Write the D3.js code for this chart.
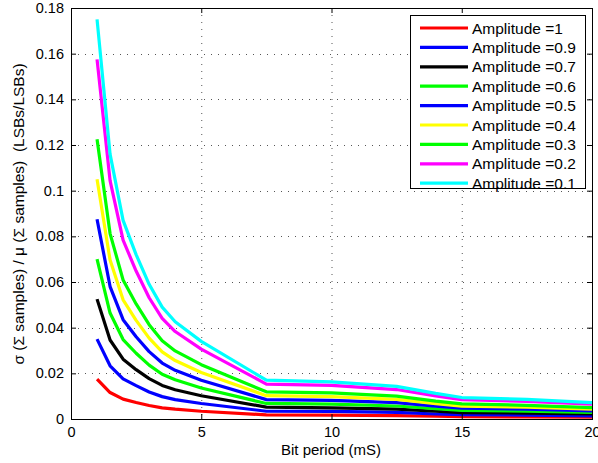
<!DOCTYPE html>
<html>
<head>
<meta charset="utf-8">
<script src="https://cdn.jsdelivr.net/npm/d3@7"></script>
<style>
  body { margin: 0; background: #fff; }
  svg { display: block; font-family: "Liberation Sans", Arial, Helvetica, sans-serif; }
</style>
</head>
<body>
<svg id="chart" width="598" height="463"></svg>
<script>
// Bit periods (mS) at which each curve is sampled
const bitPeriod = [1, 1.5, 2, 2.5, 3, 3.5, 4, 5, 7.5, 10, 12.5, 14, 15, 17.5, 20];

// Legend labels, plotting order
const amplitudeLabels = ["Amplitude =1", "Amplitude =0.9", "Amplitude =0.7", "Amplitude =0.6",
  "Amplitude =0.5", "Amplitude =0.4", "Amplitude =0.3", "Amplitude =0.2", "Amplitude =0.1"];

const seriesColors = ["#ff0000", "#0000ff", "#000000", "#00ff00", "#0000ff",
  "#ffff00", "#00ff00", "#ff00ff", "#00ffff"];

// Normalised spread sigma/mu for each amplitude
const amp10 = [0.0175, 0.0116, 0.0087, 0.0072, 0.0059, 0.0049, 0.0043, 0.0034, 0.0018, 0.0017, 0.0015, 0.0012, 0.0010, 0.0009, 0.0008];
const amp09 = [0.0350, 0.0233, 0.0176, 0.0146, 0.0118, 0.0098, 0.0085, 0.0068, 0.0034, 0.0033, 0.0029, 0.0022, 0.0019, 0.0017, 0.0014];
const amp07 = [0.0525, 0.0346, 0.0262, 0.0216, 0.0177, 0.0147, 0.0128, 0.0102, 0.0052, 0.0049, 0.0043, 0.0034, 0.0028, 0.0026, 0.0022];
const amp06 = [0.0700, 0.0464, 0.0348, 0.0288, 0.0236, 0.0196, 0.0172, 0.0136, 0.0068, 0.0065, 0.0057, 0.0045, 0.0038, 0.0034, 0.0029];
const amp05 = [0.0875, 0.0580, 0.0435, 0.0360, 0.0295, 0.0245, 0.0213, 0.0170, 0.0085, 0.0082, 0.0072, 0.0056, 0.0047, 0.0043, 0.0036];
const amp04 = [0.1050, 0.0696, 0.0522, 0.0432, 0.0354, 0.0294, 0.0256, 0.0204, 0.0102, 0.0098, 0.0086, 0.0067, 0.0056, 0.0052, 0.0043];
const amp03 = [0.1225, 0.0812, 0.0609, 0.0504, 0.0413, 0.0343, 0.0298, 0.0238, 0.0119, 0.0114, 0.0100, 0.0078, 0.0066, 0.0060, 0.0050];
const amp02 = [0.1575, 0.1044, 0.0783, 0.0648, 0.0531, 0.0441, 0.0383, 0.0306, 0.0153, 0.0147, 0.0129, 0.0101, 0.0085, 0.0077, 0.0065];
const amp01 = [0.1750, 0.1160, 0.0870, 0.0720, 0.0590, 0.0490, 0.0426, 0.0340, 0.0170, 0.0163, 0.0143, 0.0112, 0.0094, 0.0086, 0.0072];

const seriesValues = [amp10, amp09, amp07, amp06, amp05, amp04, amp03, amp02, amp01];

const xTicks = [0, 5, 10, 15, 20];
const yTicks = [0, 0.02, 0.04, 0.06, 0.08, 0.1, 0.12, 0.14, 0.16, 0.18];

const svg = d3.select("#chart");
const plot = { left: 71, right: 592, top: 8, bottom: 419 };

const x = d3.scaleLinear().domain([0, 20]).range([plot.left, plot.right]);
const y = d3.scaleLinear().domain([0, 0.18]).range([plot.bottom, plot.top]);

// dotted grid
const grid = svg.append("g").attr("stroke", "#555").attr("stroke-width", 1)
  .attr("stroke-dasharray", "1,6");
xTicks.slice(1, -1).forEach(t => {
  grid.append("line").attr("x1", x(t) + 0.5).attr("x2", x(t) + 0.5)
    .attr("y1", plot.top).attr("y2", plot.bottom);
});
yTicks.slice(1, -1).forEach(t => {
  grid.append("line").attr("y1", Math.round(y(t)) + 0.5).attr("y2", Math.round(y(t)) + 0.5)
    .attr("x1", plot.left).attr("x2", plot.right);
});

// curves
const line = d3.line().x((d, i) => x(bitPeriod[i])).y(d => y(d));
svg.append("g").selectAll("path").data(seriesValues).join("path")
  .attr("d", d => line(d))
  .attr("fill", "none")
  .attr("stroke", (d, i) => seriesColors[i])
  .attr("stroke-width", 3.2)
  .attr("stroke-linejoin", "round");

// axes with inward ticks on all four sides
const fmtY = d => d === 0 ? "0" : d3.format("")(+d.toFixed(2));
const axisStyle = g => {
  g.select(".domain").remove();
  g.selectAll("line").attr("stroke", "#000");
  g.selectAll("text").attr("font-size", 14.5).attr("fill", "#000")
    .attr("font-family", "\"Liberation Sans\", Arial, sans-serif");
};
svg.append("g").attr("transform", `translate(0,${plot.bottom})`)
  .call(d3.axisBottom(x).tickValues(xTicks).tickSizeInner(-5).tickSizeOuter(0).tickPadding(8))
  .call(axisStyle);
svg.append("g").attr("transform", `translate(0,${plot.top})`)
  .call(d3.axisTop(x).tickValues(xTicks).tickSizeInner(-5).tickSizeOuter(0).tickFormat(""))
  .call(axisStyle);
svg.append("g").attr("transform", `translate(${plot.left},0)`)
  .call(d3.axisLeft(y).tickValues(yTicks).tickSizeInner(-5).tickSizeOuter(0).tickPadding(7).tickFormat(fmtY))
  .call(axisStyle);
svg.append("g").attr("transform", `translate(${plot.right},0)`)
  .call(d3.axisRight(y).tickValues(yTicks).tickSizeInner(-5).tickSizeOuter(0).tickFormat(""))
  .call(axisStyle);

// frame
svg.append("rect").attr("x", plot.left + 0.5).attr("y", plot.top + 0.5)
  .attr("width", plot.right - plot.left).attr("height", plot.bottom - plot.top)
  .attr("fill", "none").attr("stroke", "#000").attr("stroke-width", 1);

// axis titles
svg.append("text").attr("x", 331).attr("y", 455)
  .attr("text-anchor", "middle").attr("font-size", 15).text("Bit period (mS)");
svg.append("text").attr("transform", `translate(24,214) rotate(-90)`)
  .attr("text-anchor", "middle").attr("font-size", 15.5)
  .attr("xml:space", "preserve")
  .text("σ (Σ samples) / μ (Σ samples)  (LSBs/LSBs)");

// legend
const lg = { x: 410, y: 15, w: 175, h: 173 };
svg.append("rect").attr("x", lg.x + 0.5).attr("y", lg.y + 0.5).attr("width", lg.w).attr("height", lg.h)
  .attr("fill", "#fff").attr("stroke", "#000");
const rowH = 19.4;
const rows = svg.append("g").selectAll("g").data(amplitudeLabels).join("g")
  .attr("transform", (d, i) => `translate(0,${28 + i * rowH})`);
rows.append("line").attr("x1", 420).attr("x2", 468).attr("y1", 0).attr("y2", 0)
  .attr("stroke", (d, i) => seriesColors[i]).attr("stroke-width", 3.2);
rows.append("text").attr("x", 472).attr("y", 5.5).attr("font-size", 15.5).text(d => d);
</script>
</body>
</html>
